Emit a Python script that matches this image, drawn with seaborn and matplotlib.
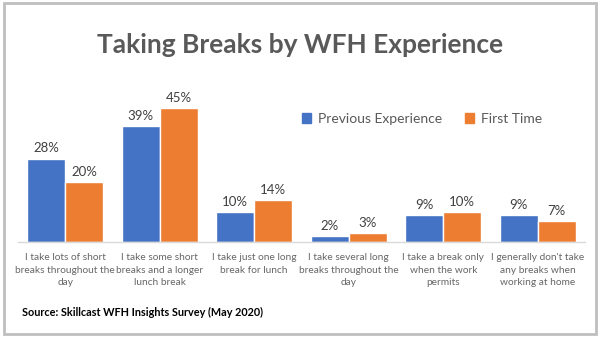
import matplotlib
matplotlib.use("Agg")
import matplotlib.pyplot as plt
import seaborn as sns
import pandas as pd
from matplotlib.patches import Rectangle

categories = [
    "I take lots of short\nbreaks throughout the\nday",
    "I take some short\nbreaks and a longer\nlunch break",
    "I take just one long\nbreak for lunch",
    "I take several long\nbreaks throughout the\nday",
    "I take a break only\nwhen the work\npermits",
    "I generally don't take\nany breaks when\nworking at home",
]
previous_experience = [28, 39, 10, 2, 9, 9]
first_time = [20, 45, 14, 3, 10, 7]
series_names = ["Previous Experience", "First Time"]
colors = ["#4472C4", "#ED7D31"]

df = pd.DataFrame({
    "category": categories * 2,
    "value": previous_experience + first_time,
    "series": [series_names[0]] * len(categories) + [series_names[1]] * len(categories),
})

sns.set_theme(style="white")
plt.rcParams["font.family"] = ["Lato", "DejaVu Sans"]

fig = plt.figure(figsize=(6, 3.37), dpi=100)
ax = fig.add_axes([0.03, 0.282, 0.945, 0.442])

sns.barplot(data=df, x="category", y="value", hue="series", order=categories,
            hue_order=series_names, palette=colors, width=0.8, saturation=1,
            ax=ax, legend=False)

for container in ax.containers:
    ax.bar_label(container, labels=[f"{v:.0f}%" for v in container.datavalues],
                 padding=3, fontsize=9.5, color="#404040")

ax.set_ylim(0, 50)
ax.set_xlim(-0.5, len(categories) - 0.5)
ax.set_xlabel("")
ax.set_ylabel("")
ax.set_yticks([])
for side in ["top", "left", "right"]:
    ax.spines[side].set_visible(False)
ax.spines["bottom"].set_color("#d9d9d9")
ax.spines["bottom"].set_linewidth(1)
ax.tick_params(axis="x", length=0, pad=8, labelsize=7.3, labelcolor="#666666")
for lbl in ax.get_xticklabels():
    lbl.set_linespacing(1.5)

# legend
handles = [Rectangle((0, 0), 1, 1, color=c) for c in colors]
fig.legend(handles, series_names, loc="center left", bbox_to_anchor=(0.482, 0.647),
           ncol=2, frameon=False, fontsize=10, labelcolor="#595959",
           handlelength=0.7, handleheight=0.7, handletextpad=0.5, columnspacing=1.6)

fig.text(0.5, 0.865, "Taking Breaks by WFH Experience", ha="center", va="center",
         fontsize=19, fontweight="bold", color="#595959")
fig.text(0.037, 0.072, "Source: Skillcast WFH Insights Survey (May 2020)", ha="left",
         va="center", fontsize=7.8, fontweight="bold", color="#000000")

fig.patches.append(Rectangle((0.006, 0.01), 0.988, 0.98, transform=fig.transFigure,
                             fill=False, edgecolor="#bfbfbf", linewidth=2))

fig.savefig("out.png", dpi=100)
